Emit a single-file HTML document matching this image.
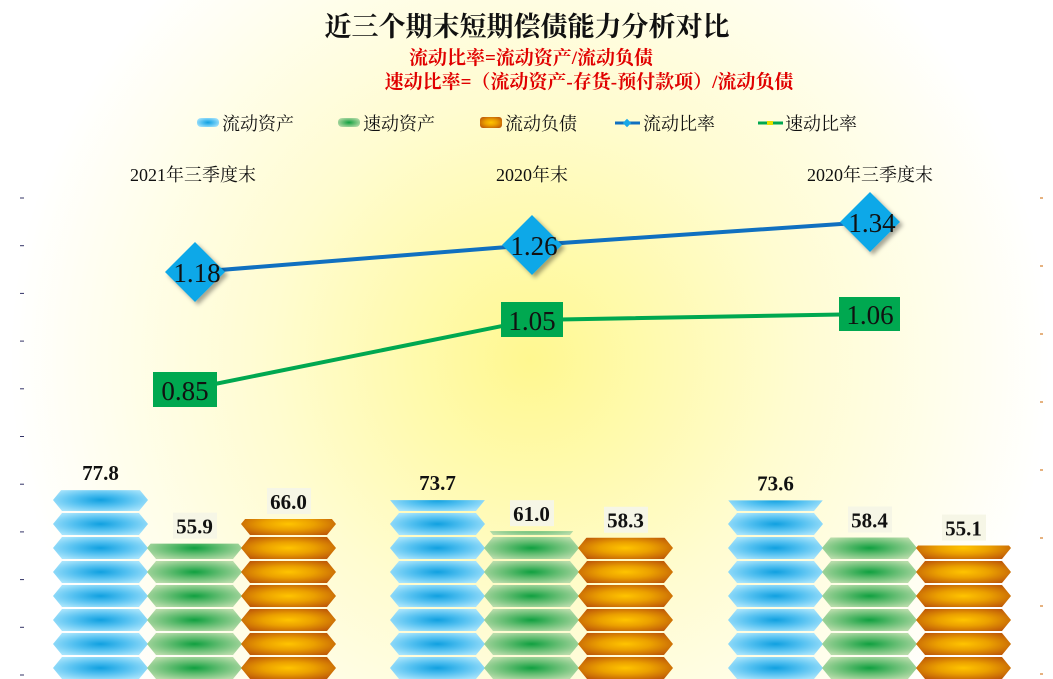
<!DOCTYPE html>
<html><head><meta charset="utf-8"><style>
html,body{margin:0;padding:0;background:#fff}
svg{display:block}
text{font-family:"Liberation Serif","Noto Serif CJK SC",serif}
</style></head><body>
<svg id="s" width="1053" height="679" xmlns="http://www.w3.org/2000/svg">
<defs>
<radialGradient id="bg" cx="530" cy="360" r="520" gradientUnits="userSpaceOnUse">
<stop offset="0" stop-color="#fff890"/><stop offset="0.5" stop-color="#fffcd0"/><stop offset="1" stop-color="#ffffff"/>
</radialGradient>
<radialGradient id="gb" cx="0.5" cy="0.5" r="0.6"><stop offset="0" stop-color="#10a0e0"/><stop offset="0.45" stop-color="#50bff0"/><stop offset="1" stop-color="#a8e4fc"/></radialGradient>
<radialGradient id="gg" cx="0.5" cy="0.5" r="0.6"><stop offset="0" stop-color="#10a040"/><stop offset="0.45" stop-color="#60bc70"/><stop offset="1" stop-color="#b8dcaa"/></radialGradient>
<radialGradient id="go" cx="0.5" cy="0.5" r="0.6"><stop offset="0" stop-color="#ffc400"/><stop offset="0.45" stop-color="#eba000"/><stop offset="1" stop-color="#c05c08"/></radialGradient>
<filter id="sh"><feDropShadow dx="3" dy="3" stdDeviation="2" flood-color="#000" flood-opacity="0.35"/></filter>
</defs>
<rect width="1053" height="679" fill="url(#bg)"/>
<text x="527" y="36" font-size="27" font-weight="bold" text-anchor="middle" fill="#111">近三个期末短期偿债能力分析对比</text>
<text x="531" y="64" font-size="19" font-weight="bold" text-anchor="middle" fill="#e00000">流动比率=流动资产/流动负债</text>
<text x="589" y="88" font-size="19" font-weight="bold" text-anchor="middle" fill="#e00000">速动比率=（流动资产-存货-预付款项）/流动负债</text>
<g font-size="18" fill="#111">
<rect x="197" y="118" width="22" height="9" rx="4" fill="url(#gb)"/><text x="222" y="130">流动资产</text>
<rect x="338" y="118" width="22" height="9" rx="4" fill="url(#gg)"/><text x="363" y="130">速动资产</text>
<rect x="480" y="117" width="22" height="11" rx="3" fill="url(#go)"/><text x="505" y="130">流动负债</text>
<line x1="615" y1="123" x2="640" y2="123" stroke="#1070c0" stroke-width="3"/><rect x="624" y="120" width="6" height="6" fill="#18a8e8" transform="rotate(45 627 123)"/><text x="643" y="130">流动比率</text>
<line x1="758" y1="123" x2="783" y2="123" stroke="#00a850" stroke-width="3"/><rect x="767" y="121" width="6" height="4" fill="#e8e000"/><text x="785" y="130">速动比率</text>
</g>
<g font-size="18" fill="#111" text-anchor="middle">
<text x="193" y="181">2021年三季度末</text><text x="532" y="181">2020年末</text><text x="870" y="181">2020年三季度末</text>
</g>
<g id="ticks"></g>
<g id="bars"></g>
<polyline points="195,272 532,245 870,222" fill="none" stroke="#1070c0" stroke-width="4"/>
<polyline points="185,390 532,320 870,314" fill="none" stroke="#00a850" stroke-width="4"/>
<g filter="url(#sh)" fill="#10a8e8">
<polygon points="195,242 225,272 195,302 165,272"/>
<polygon points="532,215 562,245 532,275 502,245"/>
<polygon points="870,192 900,222 870,252 840,222"/>
</g>
<g fill="#00a850">
<rect x="153" y="372" width="64" height="35"/>
<rect x="501" y="302" width="62" height="35"/>
<rect x="839" y="297" width="61" height="34"/>
</g>
<g font-size="27" fill="#111" text-anchor="middle">
<text x="197" y="282">1.18</text><text x="534" y="255">1.26</text><text x="872" y="232">1.34</text>
<text x="185" y="400">0.85</text><text x="532" y="330">1.05</text><text x="870" y="324">1.06</text>
</g>
<g font-size="21" font-weight="bold" fill="#111" text-anchor="middle" id="lbl"></g>
</svg>
<script>
var NS="http://www.w3.org/2000/svg";
function el(t,a,p){var e=document.createElementNS(NS,t);for(var k in a)e.setAttribute(k,a[k]);p.appendChild(e);return e;}
var bars=document.getElementById('bars'),lbl=document.getElementById('lbl'),tk=document.getElementById('ticks');
var B=680,S=2.44;
var groups=[[53,[77.8,55.9,66.0]],[390,[73.7,61.0,58.3]],[728,[73.6,58.4,55.1]]];
var fills=['url(#gb)','url(#gg)','url(#go)'];
var ci=0;
groups.forEach(function(g){
 g[1].forEach(function(v,i){
  var x=g[0]+i*94,w=95,top=B-v*S;
  var cid='c'+(ci++);
  var cp=el('clipPath',{id:cid},bars);el('rect',{x:x,y:top,width:w,height:B-top},cp);
  var gg=el('g',{'clip-path':'url(#'+cid+')'},bars);
  for(var y=B-24;y>top-24;y-=24){
   var p=[[x,y+12],[x+9,y+1],[x+w-9,y+1],[x+w,y+12],[x+w-9,y+23],[x+9,y+23]].map(function(q){return q.join(',');}).join(' ');
   el('polygon',{points:p,fill:fills[i]},gg);
  }
  var ty=top-10;
  if(i>0) {el('rect',{x:x+26,y:top-31,width:44,height:26,fill:'#f6f6e6'},lbl);}
  var t=el('text',{x:x+w/2,y:ty},lbl);t.textContent=v.toFixed(1);
 });
});
for(var y=198;y<679;y+=47.7){el('line',{x1:20,y1:y,x2:24,y2:y,stroke:'#336'},tk);}
for(var y=198;y<679;y+=68){el('line',{x1:1040,y1:y,x2:1043,y2:y,stroke:'#c60'},tk);}
</script>
</body></html>
